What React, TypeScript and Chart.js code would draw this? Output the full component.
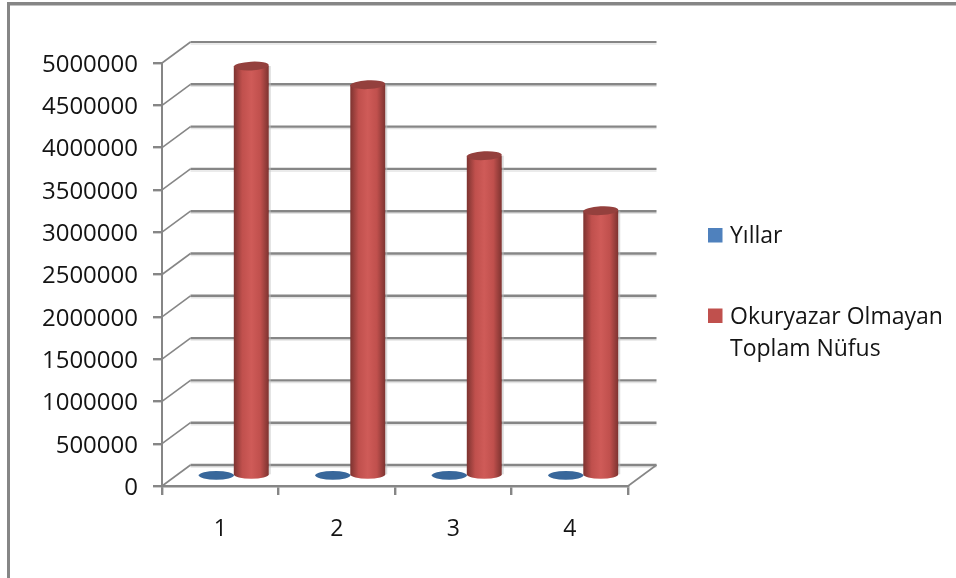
import React, { useEffect, useRef } from "react";
import { Chart, registerables } from "chart.js";

Chart.register(...registerables);

const categories = ["1", "2", "3", "4"];
const years = [1985, 1990, 2000, 2007];
const illiterate = [4840000, 4620000, 3780000, 3130000];
const seriesNames = ["Yıllar", "Okuryazar Olmayan Toplam Nüfus"];
const seriesColors = ["#4f81bd", "#c0504d"];
const FONT = '"Open Sans", sans-serif';

const DEPTH_X = 28.5;
const DEPTH_Y = 21;

const cylinderShades = [
  { left: "#2f5580", mid: "#3f6fa6", top: "#38679b" },
  { left: "#7d3330", mid: "#cf5b58", top: "#94403d" },
];

const frame3d = {
  id: "frame3d",
  beforeDraw(chart: any) {
    const { ctx, width, height } = chart;
    ctx.save();
    ctx.fillStyle = "#ffffff";
    ctx.fillRect(0, 0, width, height);
    ctx.fillStyle = "#868686";
    ctx.fillRect(7, 2, width - 7, 3.5);
    ctx.fillRect(7, 2, 3, height - 2);
    ctx.restore();
  },
  beforeDatasetsDraw(chart: any) {
    const { ctx, chartArea, scales } = chart;
    const { left, right } = chartArea;
    ctx.save();
    ctx.lineCap = "butt";
    scales.y.ticks.forEach((t: any, i: number) => {
      const y = scales.y.getPixelForValue(t.value);
      ctx.strokeStyle = "#e4e4e4";
      ctx.lineWidth = 1.5;
      ctx.beginPath();
      ctx.moveTo(left + DEPTH_X, y - DEPTH_Y + 2);
      ctx.lineTo(right + DEPTH_X, y - DEPTH_Y + 2);
      ctx.stroke();
      ctx.strokeStyle = "#868686";
      ctx.lineWidth = i === scales.y.ticks.length - 1 ? 1.8 : 2.4;
      ctx.beginPath();
      ctx.moveTo(left + DEPTH_X, y - DEPTH_Y);
      ctx.lineTo(right + DEPTH_X, y - DEPTH_Y);
      ctx.stroke();
      ctx.lineWidth = 1.6;
      ctx.beginPath();
      ctx.moveTo(left, y);
      ctx.lineTo(left + DEPTH_X, y - DEPTH_Y);
      ctx.stroke();
    });
    const y0 = scales.y.getPixelForValue(0);
    ctx.lineWidth = 1.6;
    ctx.beginPath();
    ctx.moveTo(right, y0);
    ctx.lineTo(right + DEPTH_X, y0 - DEPTH_Y);
    ctx.stroke();
    ctx.restore();
  },
  afterDatasetsDraw(chart: any) {
    const { ctx } = chart;
    ctx.save();
    ctx.translate(DEPTH_X / 2 - 0.7, -DEPTH_Y / 2);
    chart.data.datasets.forEach((_: any, di: number) => {
      const shade = cylinderShades[di];
      chart.getDatasetMeta(di).data.forEach((bar: any) => {
        const rx = bar.width / 2;
        const ry = 4.4;
        const x0 = bar.x - rx;
        const x1 = bar.x + rx;
        const g = ctx.createLinearGradient(x0, 0, x1, 0);
        g.addColorStop(0, shade.left);
        g.addColorStop(0.24, seriesColors[di]);
        g.addColorStop(0.5, shade.mid);
        g.addColorStop(0.76, seriesColors[di]);
        g.addColorStop(1, shade.left);
        if (bar.base - bar.y > 2) {
          ctx.fillStyle = "rgba(190,190,190,0.55)";
          ctx.fillRect(x1, bar.y, 2, bar.base - bar.y);
        }
        ctx.fillStyle = g;
        ctx.beginPath();
        ctx.moveTo(x0, bar.y);
        ctx.lineTo(x0, bar.base);
        ctx.ellipse(bar.x, bar.base, rx, ry, 0, Math.PI, 0, true);
        ctx.lineTo(x1, bar.y);
        ctx.closePath();
        ctx.fill();
        ctx.fillStyle = shade.top;
        ctx.beginPath();
        ctx.ellipse(bar.x, bar.y, rx, ry, bar.base - bar.y > 2 ? -0.05 : 0, 0, Math.PI * 2);
        ctx.fill();
      });
    });
    ctx.restore();

    // Legend, right of the plot
    ctx.save();
    ctx.font = `23px ${FONT}`;
    ctx.textBaseline = "middle";
    ctx.textAlign = "left";
    const rows = [
      { y: 235, lines: [seriesNames[0]] },
      { y: 315.5, lines: [seriesNames[1].slice(0, 17), seriesNames[1].slice(18)] },
    ];
    rows.forEach((row, i) => {
      ctx.fillStyle = seriesColors[i];
      ctx.fillRect(708, row.y - 7, 14.5, 14.5);
      ctx.fillStyle = "#141414";
      row.lines.forEach((line, l) => ctx.fillText(line, 730, row.y + 1.5 + l * 32.5));
    });
    ctx.restore();
  },
};

export default function App() {
  const ref = useRef<HTMLCanvasElement>(null);
  useEffect(() => {
    document.body.style.margin = "0";
    const chart = new Chart(ref.current!, {
      type: "bar",
      data: {
        labels: categories,
        datasets: [
          { label: seriesNames[0], data: years, backgroundColor: "rgba(0,0,0,0)", categoryPercentage: 0.6, barPercentage: 1 },
          { label: seriesNames[1], data: illiterate, backgroundColor: "rgba(0,0,0,0)", categoryPercentage: 0.6, barPercentage: 1 },
        ],
      },
      options: {
        animation: false,
        responsive: false,
        devicePixelRatio: 1,
        layout: { padding: { top: 63, right: 328, left: 0, bottom: 0 } },
        plugins: { legend: { display: false }, title: { display: false }, tooltip: { enabled: false } },
        scales: {
          x: {
            afterFit: (s: any) => { s.height = 92; },
            grid: { drawOnChartArea: false, tickLength: 9, lineWidth: 2.4, color: "#868686", tickColor: "#868686" },
            border: { color: "#868686", width: 2.4 },
            ticks: { color: "#141414", font: { family: FONT, size: 23 }, padding: 21, maxRotation: 0 },
          },
          y: {
            min: 0,
            max: 5000000,
            afterFit: (s: any) => { s.width = 162; },
            grid: { drawOnChartArea: false, tickLength: 9, lineWidth: 2.4, color: "#868686", tickColor: "#868686" },
            border: { color: "#868686", width: 2 },
            ticks: {
              stepSize: 500000,
              color: "#141414",
              font: { family: FONT, size: 24 },
              padding: 15,
              labelOffset: 2,
              callback: (v: any) => String(v),
            },
          },
        },
      },
      plugins: [frame3d],
    } as any);
    return () => chart.destroy();
  }, []);
  return (
    <div style={{ position: "absolute", left: 0, top: 0, width: 956, height: 578 }}>
      <canvas ref={ref} width={956} height={578} style={{ display: "block" }} />
    </div>
  );
}
